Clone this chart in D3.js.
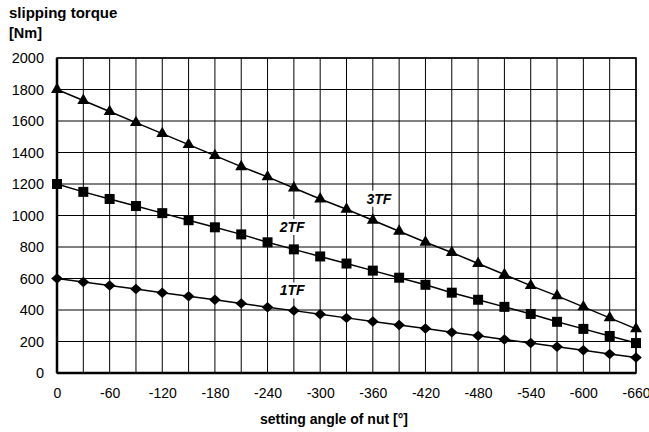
<!DOCTYPE html>
<html><head><meta charset="utf-8">
<script src="https://cdn.jsdelivr.net/npm/d3@7"></script>
<style>body{margin:0;background:#fff}svg{display:block;font-family:"Liberation Sans",Arial,sans-serif}</style>
</head><body><svg id="c" width="649" height="432"></svg>
<script>
const angles = [0,-30,-60,-90,-120,-150,-180,-210,-240,-270,-300,-330,-360,-390,-420,-450,-480,-510,-540,-570,-600,-630,-660];
const tf3 = [1800,1730,1660,1590,1520,1450,1380,1310,1245,1175,1105,1040,970,900,830,765,695,625,555,490,420,350,280];
const tf2 = [1200,1150,1105,1060,1015,970,925,880,830,785,740,695,650,605,560,510,465,420,375,325,280,235,190];
const tf1 = [600,578,555,533,510,487,465,442,418,396,373,350,327,305,282,258,236,213,190,167,144,121,98];
const xTicks = [0,-60,-120,-180,-240,-300,-360,-420,-480,-540,-600,-660];
const yTicks = [0,200,400,600,800,1000,1200,1400,1600,1800,2000];
const labels = [{t:"3TF",a:-367,v:1107},{t:"2TF",a:-268,v:927},{t:"1TF",a:-268,v:524}];

const svg = d3.select("#c");
const L=57,R=636,T=58,B=373;
const FONT="Liberation Sans, Arial, sans-serif";
const x = d3.scaleLinear().domain([0,-660]).range([L,R]);
const y = d3.scaleLinear().domain([0,2000]).range([B,T]);
const g = svg.append("g");
// grid
g.selectAll(".vg").data(angles).join("line").attr("x1",d=>x(d)).attr("x2",d=>x(d)).attr("y1",T).attr("y2",B).attr("stroke","#000").attr("stroke-width",1);
g.selectAll(".hg").data(yTicks).join("line").attr("y1",d=>y(d)).attr("y2",d=>y(d)).attr("x1",L).attr("x2",R).attr("stroke","#000").attr("stroke-width",1);
g.append("rect").attr("x",L).attr("y",T).attr("width",R-L).attr("height",B-T).attr("fill","none").attr("stroke","#000").attr("stroke-width",1.5);
g.append("line").attr("x1",L).attr("x2",R).attr("y1",B).attr("y2",B).attr("stroke","#000").attr("stroke-width",2.5);
g.append("line").attr("x1",L).attr("x2",L).attr("y1",T).attr("y2",B).attr("stroke","#000").attr("stroke-width",2.5);
// axes
const fmt = d=>String(d);
const xa = svg.append("g").attr("transform",`translate(0,${B})`).call(d3.axisBottom(x).tickValues(xTicks).tickSize(0).tickPadding(15).tickFormat(fmt));
xa.select(".domain").remove();
xa.selectAll("text").attr("font-size",14).attr("fill","#000").attr("font-family",FONT);
const ya = svg.append("g").attr("transform",`translate(${L},0)`).call(d3.axisLeft(y).tickValues(yTicks).tickSize(0).tickPadding(13).tickFormat(fmt));
ya.select(".domain").remove();
ya.selectAll("text").attr("font-size",14.5).attr("fill","#000").attr("font-family",FONT);
// lines
const line = d3.line().x((d,i)=>x(angles[i])).y(d=>y(d));
[tf3,tf2,tf1].forEach(s=>svg.append("path").datum(s).attr("d",line).attr("fill","none").attr("stroke","#000").attr("stroke-width",1.5));
const diamond = {draw(ctx,size){const w=Math.sqrt(size)*0.78,h=Math.sqrt(size)*0.7;ctx.moveTo(0,-h);ctx.lineTo(w,0);ctx.lineTo(0,h);ctx.lineTo(-w,0);ctx.closePath();}};
const mk = (s,type,size)=>svg.append("g").selectAll("path").data(s).join("path")
  .attr("transform",(d,i)=>`translate(${x(angles[i])},${y(d)})`)
  .attr("d",d3.symbol().type(type).size(size)).attr("fill","#000");
mk(tf3,d3.symbolTriangle,62);
mk(tf2,d3.symbolSquare,100);
mk(tf1,diamond,56);
// labels
labels.forEach(l=>{
  const t = svg.append("text").attr("x",x(l.a)).attr("y",y(l.v)).attr("text-anchor","middle").attr("dominant-baseline","central")
    .attr("font-size",14).attr("font-weight","bold").attr("font-style","italic").text(l.t);
  const bb = t.node().getBBox();
  svg.insert("rect",()=>t.node()).attr("x",bb.x-3).attr("y",bb.y).attr("width",bb.width+6).attr("height",bb.height).attr("fill","#fff");
});
// titles
svg.append("text").attr("x",9).attr("y",18).attr("font-size",15).attr("font-weight","bold").text("slipping torque");
svg.append("text").attr("x",9).attr("y",38).attr("font-size",14.5).attr("font-weight","bold").text("[Nm]");
svg.append("text").attr("x",334).attr("y",424).attr("text-anchor","middle").attr("font-size",14).attr("font-weight","bold").text("setting angle of nut [°]");
</script></body></html>
